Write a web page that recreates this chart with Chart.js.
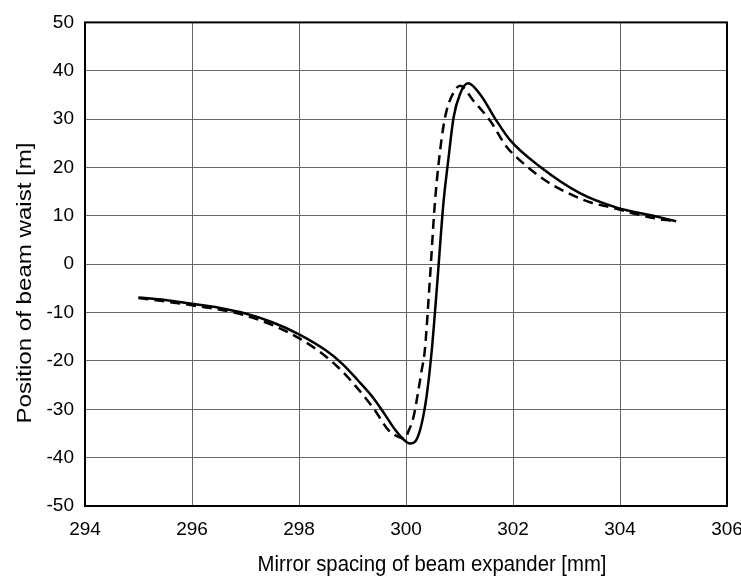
<!DOCTYPE html>
<html>
<head>
<meta charset="utf-8">
<title>Beam waist</title>
<script src="https://cdn.jsdelivr.net/npm/chart.js@4.4.1/dist/chart.umd.min.js"></script>
<style>
  html, body { margin: 0; padding: 0; background: #fff; }
  #wrap { width: 741px; height: 579px; }
</style>
</head>
<body>
<div id="wrap"><canvas id="lineChart" width="741" height="579"></canvas></div>
<script>
/******************************************************/
/*         Datos        */
/******************************************************/

// curva continua
var espaciadoSolida = [295.0, 295.5, 296.0, 296.5, 297.0, 297.5, 298.0, 298.5, 298.8, 299.1,
                       299.4, 299.6, 299.8, 299.95, 300.07, 300.17, 300.26, 300.33, 300.39, 300.48,
                       300.58, 300.70, 300.79, 300.89, 301.01, 301.16, 301.38, 301.69, 301.95, 302.5,
                       303.25, 303.94, 304.62, 305.05];
var cinturaSolida = [-6.9, -7.4, -8.2, -9.0, -10.2, -12.0, -14.5, -17.8, -20.5, -24.0,
                     -27.8, -31.0, -34.3, -36.2, -37.1, -36.7, -34.4, -31.0, -26.9, -18.0,
                     -4.5, 12.7, 21.5, 30.4, 35.2, 37.4, 35.2, 29.7, 25.6, 20.2,
                     14.7, 11.7, 10.0, 8.9];

// curva discontinua
var espaciadoDiscontinua = [295.0, 296.0, 297.0, 298.0, 298.7, 299.38, 299.68, 299.88, 299.98, 300.04,
                            300.14, 300.23, 300.29, 300.35, 300.45, 300.54, 300.67, 300.76, 300.89, 301.01,
                            301.26, 301.57, 301.88, 302.19, 302.62, 303.03, 303.44, 303.85, 304.25, 304.69,
                            304.95];
var cinturaDiscontinua = [-7.0, -8.5, -10.6, -15.3, -21.0, -29.6, -34.4, -35.8, -36.1, -34.7,
                          -31.6, -26.2, -22.1, -18.0, -2.5, 12.7, 26.3, 31.8, 35.5, 36.9,
                          33.8, 29.7, 24.3, 20.9, 17.2, 14.7, 12.8, 11.7, 10.5, 9.4,
                          9.0];

// etiquetas de los ejes
var ticksX = [294, 296, 298, 300, 302, 304, 306];
var ticksY = [-50, -40, -30, -20, -10, 0, 10, 20, 30, 40, 50];

var tituloX = "Mirror spacing of beam expander [mm]";
var tituloY = "Position of beam waist [m]";

var fuente = "'Liberation Sans', Arial, sans-serif";

function armarPuntos(xs, ys){
    var puntos = [];
    for(var i = 0; i < xs.length; i++){
        puntos.push({ x: xs[i], y: ys[i] });
    }
    return puntos;
}

// marco negro alrededor del area de la grafica
var marcoPlugin = {
    id: "marco",
    afterDatasetsDraw: function(chart){
        var a = chart.chartArea;
        var ctx = chart.ctx;
        ctx.save();
        ctx.strokeStyle = "#000";
        ctx.lineWidth = 2;
        ctx.strokeRect(a.left, a.top, a.right - a.left, a.bottom - a.top);
        ctx.restore();
    }
};

// titulos de los ejes (letra algo angosta como en la original)
var titulosPlugin = {
    id: "titulos",
    afterDraw: function(chart){
        var ctx = chart.ctx;
        ctx.save();
        ctx.fillStyle = "#000";
        ctx.font = "22px " + fuente;
        ctx.textAlign = "center";
        ctx.textBaseline = "alphabetic";

        // eje X
        var anchoX = ctx.measureText(tituloX).width;
        ctx.save();
        ctx.translate(432, 571);
        ctx.scale(349 / anchoX, 1);
        ctx.fillText(tituloX, 0, 0);
        ctx.restore();

        // eje Y
        var anchoY = ctx.measureText(tituloY).width;
        ctx.save();
        ctx.translate(31, 283);
        ctx.scale(0.92, 281 / anchoY);
        ctx.rotate(-Math.PI / 2);
        ctx.fillText(tituloY, 0, 0);
        ctx.restore();

        ctx.restore();
    }
};

//-------------
//- LINE CHART -
//-------------
function dibujarGraficaLineas(){
    var ctx = document.getElementById("lineChart").getContext("2d");

    new Chart(ctx, {
        type: "line",
        data: {
            datasets: [
                {
                    data: armarPuntos(espaciadoSolida, cinturaSolida),
                    borderColor: "#000",
                    borderWidth: 2.5,
                    pointRadius: 0,
                    fill: false,
                    cubicInterpolationMode: "monotone"
                },
                {
                    data: armarPuntos(espaciadoDiscontinua, cinturaDiscontinua),
                    borderColor: "#000",
                    borderWidth: 2.5,
                    borderDash: [10, 6],
                    pointRadius: 0,
                    fill: false,
                    cubicInterpolationMode: "monotone"
                }
            ]
        },
        options: {
            responsive: false,
            animation: false,
            layout: { padding: { left: 0, right: 0, top: 17, bottom: 0 } },
            plugins: {
                legend: { display: false },
                tooltip: { enabled: false }
            },
            scales: {
                x: {
                    type: "linear",
                    min: ticksX[0],
                    max: ticksX[ticksX.length - 1],
                    afterBuildTicks: function(scale){
                        scale.ticks = ticksX.map(function(v){ return { value: v }; });
                    },
                    afterFit: function(scale){
                        scale.height = 73;
                        scale.paddingRight = 14;
                    },
                    grid: { color: "#666", lineWidth: 1, drawTicks: false },
                    border: { display: false },
                    ticks: {
                        color: "#000",
                        padding: 12,
                        maxRotation: 0,
                        font: { family: fuente, size: 19 }
                    }
                },
                y: {
                    type: "linear",
                    min: ticksY[0],
                    max: ticksY[ticksY.length - 1],
                    afterBuildTicks: function(scale){
                        scale.ticks = ticksY.map(function(v){ return { value: v }; });
                    },
                    afterFit: function(scale){ scale.width = 85; },
                    grid: { color: "#666", lineWidth: 1, drawTicks: false },
                    border: { display: false },
                    ticks: {
                        color: "#000",
                        padding: 11,
                        font: { family: fuente, size: 19 }
                    }
                }
            }
        },
        plugins: [marcoPlugin, titulosPlugin]
    });
}

dibujarGraficaLineas();
</script>
</body>
</html>
